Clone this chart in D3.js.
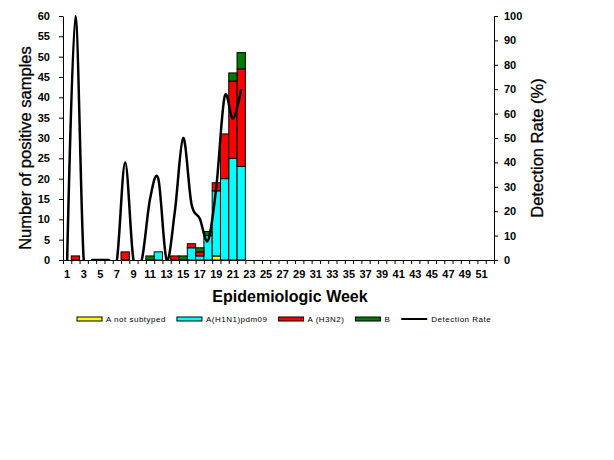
<!DOCTYPE html>
<html lang="en">
<head>
<meta charset="UTF-8">
<title>Influenza positives by epidemiologic week</title>
<script src="https://d3js.org/d3.v7.min.js"></script>
<style>
  body { margin: 0; background: #fff; }
  svg { font-family: Arial, "Liberation Sans", sans-serif; }
</style>
</head>
<body>
<div id="chart"></div>
<script>
// categories: epidemiologic weeks 1..52, labels on odd weeks
const weeks = d3.range(1, 53);
const weekLabels = d3.range(1, 53, 2);

// reported weeks 1..22
const notSubtyped = [0, 0, 0, 0, 0, 0, 0, 0, 0, 0, 0, 0, 0, 0, 0, 0, 0, 0, 1, 0, 0, 0];
const h1n1pdm = [0, 0, 0, 0, 0, 0, 0, 0, 0, 0, 0, 2, 0, 0, 0, 3, 1, 6, 16, 20, 25, 23];
const h3n2 = [0, 1, 0, 0, 0, 0, 0, 2, 0, 0, 0, 0, 0, 1, 0, 1, 1, 0, 2, 11, 19, 24];
const fluB = [0, 0, 0, 0, 0, 0, 0, 0, 0, 0, 1, 0, 0, 0, 1, 0, 1, 1, 0, 0, 2, 4];
const detectionRate = [0, 100, 0, 0, 0, 0, 0, 40, 0, 0, 25, 33.3, 0, 20, 50, 23, 17, 8, 30, 67, 58, 70];

const seriesNames = ["A not subtyped", "A(H1N1)pdm09", "A (H3N2)", "B"];
const seriesColors = ["#ffff00", "#00ffff", "#ff0000", "#007a00"];
const countTicks = d3.range(0, 61, 5);
const rateTicks = d3.range(0, 101, 10);

const W = 614, H = 460;
const plot = { left: 63, right: 494, top: 16, bottom: 260 };

const svg = d3.select("#chart").append("svg")
  .attr("width", W)
  .attr("height", H);

const x = d3.scaleBand()
  .domain(weeks)
  .range([plot.left, plot.right])
  .padding(0);

// same range, but for the tick marks between categories
const xEdge = d3.scaleLinear()
  .domain([0.5, 52.5])
  .range([plot.left, plot.right]);

const y = d3.scaleLinear().domain([0, 60]).range([plot.bottom, plot.top]);
const yRate = d3.scaleLinear().domain([0, 100]).range([plot.bottom, plot.top]);

// rows for the stack
const rows = notSubtyped.map((v, i) => ({
  week: weeks[i],
  [seriesNames[0]]: v,
  [seriesNames[1]]: h1n1pdm[i],
  [seriesNames[2]]: h3n2[i],
  [seriesNames[3]]: fluB[i]
}));

const stacked = d3.stack().keys(seriesNames)(rows);

// bars
svg.append("g")
  .selectAll("g")
  .data(stacked)
  .join("g")
  .attr("fill", (d, i) => seriesColors[i])
  .selectAll("rect")
  .data(d => d.filter(s => s[1] > s[0]))
  .join("rect")
  .attr("x", d => x(d.data.week))
  .attr("width", x.bandwidth())
  .attr("y", d => y(d[1]))
  .attr("height", d => y(d[0]) - y(d[1]))
  .attr("stroke", "#000")
  .attr("stroke-width", 1);

// detection rate line, clipped to the plot area like excel does
svg.append("clipPath")
  .attr("id", "plotClip")
  .append("rect")
  .attr("x", plot.left)
  .attr("y", 0)
  .attr("width", plot.right - plot.left)
  .attr("height", plot.bottom);

const line = d3.line()
  .x((d, i) => x(weeks[i]) + x.bandwidth() / 2)
  .y(d => yRate(d))
  .curve(d3.curveCardinal.tension(0));

svg.append("path")
  .datum(detectionRate)
  .attr("clip-path", "url(#plotClip)")
  .attr("fill", "none")
  .attr("stroke", "#000")
  .attr("stroke-width", 2.5)
  .attr("d", line);

// left axis
const leftAxis = svg.append("g")
  .attr("transform", `translate(${plot.left},0)`)
  .call(d3.axisLeft(y).tickValues(countTicks).tickSize(4).tickPadding(9).tickSizeOuter(0));

// right axis
const rightAxis = svg.append("g")
  .attr("transform", `translate(${plot.right},0)`)
  .call(d3.axisRight(yRate).tickValues(rateTicks).tickSize(4).tickPadding(6).tickSizeOuter(0));

// bottom axis: ticks between weeks
svg.append("g")
  .attr("transform", `translate(0,${plot.bottom})`)
  .call(d3.axisBottom(xEdge).tickValues(d3.range(0.5, 53, 1)).tickSize(4).tickFormat("").tickSizeOuter(0));

// bottom labels on odd weeks
const bottomLabels = svg.append("g")
  .attr("transform", `translate(0,${plot.bottom})`)
  .call(d3.axisBottom(x).tickValues(weekLabels).tickSize(0).tickPadding(10));
bottomLabels.select(".domain").remove();

[leftAxis, rightAxis, bottomLabels].forEach(g => {
  g.selectAll("text")
    .attr("fill", "#000")
    .style("font-size", "11px")
    .style("font-weight", "bold")
    .style("font-family", "Arial, 'Liberation Sans', sans-serif");
});
svg.selectAll(".domain, .tick line").attr("stroke", "#000");

// axis titles
svg.append("text")
  .attr("x", 290)
  .attr("y", 302)
  .attr("text-anchor", "middle")
  .style("font-size", "16px")
  .style("font-weight", "bold")
  .text("Epidemiologic Week");

svg.append("text")
  .attr("transform", "translate(31,148) rotate(-90)")
  .attr("text-anchor", "middle")
  .attr("stroke", "#000")
  .attr("stroke-width", 0.3)
  .style("font-size", "16.5px")
  .text("Number of positive samples");

svg.append("text")
  .attr("transform", "translate(543,148) rotate(-90)")
  .attr("text-anchor", "middle")
  .attr("stroke", "#000")
  .attr("stroke-width", 0.3)
  .style("font-size", "16.5px")
  .text("Detection Rate (%)");

// legend
const legend = svg.append("g").attr("transform", "translate(77,319)");
let lx = 0;
const legendItems = seriesNames.map((n, i) => ({ name: n, color: seriesColors[i], type: "bar" }))
  .concat([{ name: "Detection Rate", color: "#000", type: "line" }]);

legendItems.forEach(item => {
  const g = legend.append("g").attr("transform", `translate(${lx},0)`);
  if (item.type === "bar") {
    g.append("rect")
      .attr("x", 0).attr("y", -2)
      .attr("width", 25).attr("height", 4)
      .attr("fill", item.color)
      .attr("stroke", "#000")
      .attr("stroke-width", 1);
  } else {
    g.append("line")
      .attr("x1", 0).attr("x2", 26)
      .attr("stroke", "#000")
      .attr("stroke-width", 2);
  }
  const t = g.append("text")
    .attr("x", item.type === "bar" ? 29 : 30)
    .attr("y", 3)
    .style("font-size", "8px")
    .style("letter-spacing", "0.5px")
    .text(item.name);
  lx += (item.type === "bar" ? 29 : 30) + t.node().getComputedTextLength() + 11;
});
</script>
</body>
</html>
